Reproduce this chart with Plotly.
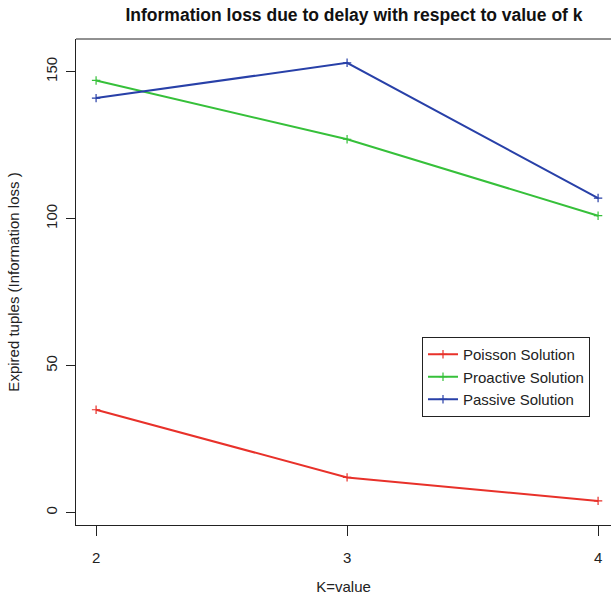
import plotly.graph_objects as go

k_values = [2, 3, 4]
poisson = [35, 12, 4]
proactive = [147, 127, 101]
passive = [141, 153, 107]

series_names = ["Poisson Solution", "Proactive Solution", "Passive Solution"]
series_colors = ["#E8312A", "#36C03A", "#2840A8"]
y_ticks = [0, 50, 100, 150]
x_ticks = [2, 3, 4]

FONT = "Liberation Sans, Arial, Helvetica, sans-serif"

fig = go.Figure()
for name, vals, col in zip(series_names, [poisson, proactive, passive], series_colors):
    fig.add_trace(go.Scatter(
        x=k_values, y=vals, name=name, mode="lines+markers",
        line=dict(color=col, width=2),
        marker=dict(symbol="cross-thin", size=6, line=dict(color=col, width=1.2)),
    ))

L, T, B = 76, 39, 72
fig.update_layout(
    width=611, height=597,
    margin=dict(l=L, r=0, t=T, b=B, pad=0),
    paper_bgcolor="white", plot_bgcolor="white",
    font=dict(family=FONT, size=15, color="#222222"),
    title=dict(text="<b>Information loss due to delay with respect to value of k</b>",
               x=(354) / 611, xanchor="center", y=1 - 15 / 597, yanchor="middle",
               font=dict(size=17.5, color="#111111", family=FONT)),
    xaxis=dict(range=[1.92, 1.92 + (611 - L) / 251.0], tickvals=x_ticks,
               ticktext=[str(v) for v in x_ticks],
               showgrid=False, zeroline=False, showline=True, linecolor="#222222", linewidth=1,
               ticks="outside", ticklen=10, tickcolor="#222222", tickwidth=1,
               ticklabelstandoff=9,
               title=dict(text="K=value", standoff=16, font=dict(size=15))),
    yaxis=dict(range=[-4.19, 161.1], tickvals=y_ticks,
               showgrid=False, zeroline=False, showline=True, linecolor="#222222", linewidth=1,
               ticks="outside", ticklen=9, tickcolor="#222222", tickwidth=1,
               tickangle=-90, ticklabelstandoff=3,
               title=dict(text="Expired tuples (Information loss )", standoff=19, font=dict(size=15))),
    legend=dict(x=(422 - L) / (611 - L), y=(525 - 337) / (597 - T - B),
                xanchor="left", yanchor="top",
                bordercolor="#222222", borderwidth=1, bgcolor="white",
                font=dict(size=15, color="#222222"), tracegroupgap=0),
    showlegend=True,
)
# top border of the plot box
fig.add_shape(type="line", xref="paper", yref="paper", x0=0, x1=1, y0=1, y1=1,
              line=dict(color="#222222", width=1))
fig.write_html("out.html")
